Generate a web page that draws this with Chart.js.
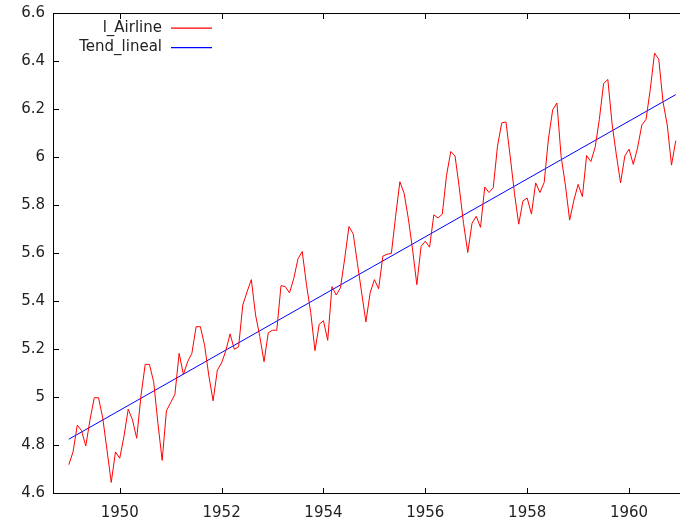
<!DOCTYPE html>
<html>
<head>
<meta charset="utf-8">
<script src="https://cdn.jsdelivr.net/npm/chart.js@4"></script>
<style>
  html, body { margin: 0; padding: 0; background: #fff; overflow: hidden; }
  canvas { display: block; }
</style>
</head>
<body>
<canvas id="c" width="680" height="518"></canvas>
<script>
// log of monthly airline passengers, Jan 1949 .. Dec 1960
const startYear = 1949;
const lAirline = [
    4.718, 4.771, 4.883, 4.860, 4.796, 4.905, 4.997, 4.997, 4.913, 4.779, 4.644, 4.771,
    4.745, 4.836, 4.949, 4.905, 4.828, 5.004, 5.136, 5.136, 5.063, 4.890, 4.736, 4.942,
    4.977, 5.011, 5.182, 5.094, 5.147, 5.182, 5.293, 5.293, 5.215, 5.088, 4.984, 5.112,
    5.142, 5.193, 5.263, 5.199, 5.209, 5.384, 5.438, 5.489, 5.342, 5.252, 5.147, 5.268,
    5.278, 5.278, 5.464, 5.460, 5.434, 5.493, 5.576, 5.606, 5.468, 5.352, 5.193, 5.303,
    5.318, 5.236, 5.460, 5.425, 5.455, 5.576, 5.710, 5.680, 5.557, 5.434, 5.313, 5.434,
    5.489, 5.451, 5.587, 5.595, 5.598, 5.753, 5.897, 5.849, 5.743, 5.613, 5.468, 5.628,
    5.649, 5.624, 5.759, 5.746, 5.762, 5.924, 6.023, 6.004, 5.872, 5.724, 5.602, 5.724,
    5.753, 5.707, 5.875, 5.852, 5.872, 6.045, 6.142, 6.146, 6.001, 5.849, 5.720, 5.817,
    5.829, 5.762, 5.892, 5.852, 5.894, 6.075, 6.196, 6.225, 6.001, 5.883, 5.737, 5.820,
    5.886, 5.835, 6.006, 5.981, 6.040, 6.157, 6.306, 6.323, 6.138, 6.009, 5.892, 6.004,
    6.033, 5.969, 6.038, 6.133, 6.157, 6.282, 6.433, 6.407, 6.230, 6.133, 5.966, 6.068
];
// linear trend, first and last month
const trendX = [1949, 1960.917];
const trendY = [4.824, 6.260];

const xTicks = [1950, 1952, 1954, 1956, 1958, 1960];
const yTicks = [4.6, 4.8, 5, 5.2, 5.4, 5.6, 5.8, 6, 6.2, 6.4, 6.6];
const seriesNames = ["l_Airline", "Tend_lineal"];
const seriesColors = ["#ff0000", "#0000ff"];

const fontFamily = "'DejaVu Sans', Verdana, sans-serif";
const fontSize = 15;
const textColor = "#222";

const noPad = s => {
    s.paddingTop = 0; s.paddingBottom = 0;
    s.paddingLeft = 0; s.paddingRight = 0;
};

const framePlugin = {
    id: "frame",
    afterDraw(chart) {
        const { ctx, chartArea: a, scales } = chart;
        ctx.save();
        ctx.fillStyle = "#000";
        const L = Math.round(a.left), B = Math.round(a.bottom), T = Math.round(a.top);
        ctx.fillRect(L, T, 1, B - T + 1);
        ctx.fillRect(L, B, chart.width - L, 1);
        ctx.fillRect(L, T, chart.width - L, 1);
        yTicks.forEach(v => {
            const y = Math.round(scales.y.getPixelForValue(v));
            ctx.fillRect(L, y, 6, 1);
        });
        xTicks.forEach(v => {
            const x = Math.round(scales.x.getPixelForValue(v));
            ctx.fillRect(x, B - 5, 1, 5);
            ctx.fillRect(x, T + 1, 1, 5);
        });

        // legend: text right-aligned, sample line to the right
        ctx.font = fontSize + "px " + fontFamily;
        ctx.textAlign = "right";
        ctx.textBaseline = "alphabetic";
        seriesNames.forEach((name, i) => {
            const y = 32 + i * 19;
            ctx.fillStyle = textColor;
            ctx.fillText(name, 162, y);
            ctx.strokeStyle = seriesColors[i];
            ctx.lineWidth = 1.2;
            ctx.beginPath();
            ctx.moveTo(171, y - 3.8 + i * 0.4);
            ctx.lineTo(212, y - 3.8 + i * 0.4);
            ctx.stroke();
        });
        ctx.restore();
    }
};

new Chart(document.getElementById("c"), {
    type: "line",
    data: {
        datasets: [
            {
                label: seriesNames[0],
                data: lAirline.map((v, i) => ({ x: startYear + i / 12, y: v })),
                borderColor: seriesColors[0],
                borderWidth: 1,
                pointRadius: 0,
                tension: 0
            },
            {
                label: seriesNames[1],
                data: trendX.map((x, i) => ({ x, y: trendY[i] })),
                borderColor: seriesColors[1],
                borderWidth: 1,
                pointRadius: 0,
                tension: 0
            }
        ]
    },
    options: {
        responsive: false,
        animation: false,
        layout: { padding: { top: 13, right: 0, left: 0, bottom: 0 } },
        plugins: { legend: { display: false }, tooltip: { enabled: false } },
        scales: {
            x: {
                type: "linear",
                min: 1948.69,
                max: 1961.0,
                grid: { display: false, drawTicks: false },
                border: { display: false },
                afterBuildTicks: s => { s.ticks = xTicks.map(v => ({ value: v })); },
                afterFit: s => { s.height = 25; noPad(s); },
                ticks: {
                    padding: 11,
                    color: textColor,
                    font: { family: fontFamily, size: fontSize },
                    maxRotation: 0,
                    callback: v => String(v)
                }
            },
            y: {
                min: 4.6,
                max: 6.6,
                grid: { display: false, drawTicks: false },
                border: { display: false },
                afterBuildTicks: s => { s.ticks = yTicks.map(v => ({ value: v })); },
                afterFit: s => { s.width = 53; noPad(s); },
                ticks: {
                    padding: 8,
                    color: textColor,
                    font: { family: fontFamily, size: fontSize },
                    callback: v => String(+v.toFixed(1))
                }
            }
        }
    },
    plugins: [framePlugin]
});
</script>
</body>
</html>
